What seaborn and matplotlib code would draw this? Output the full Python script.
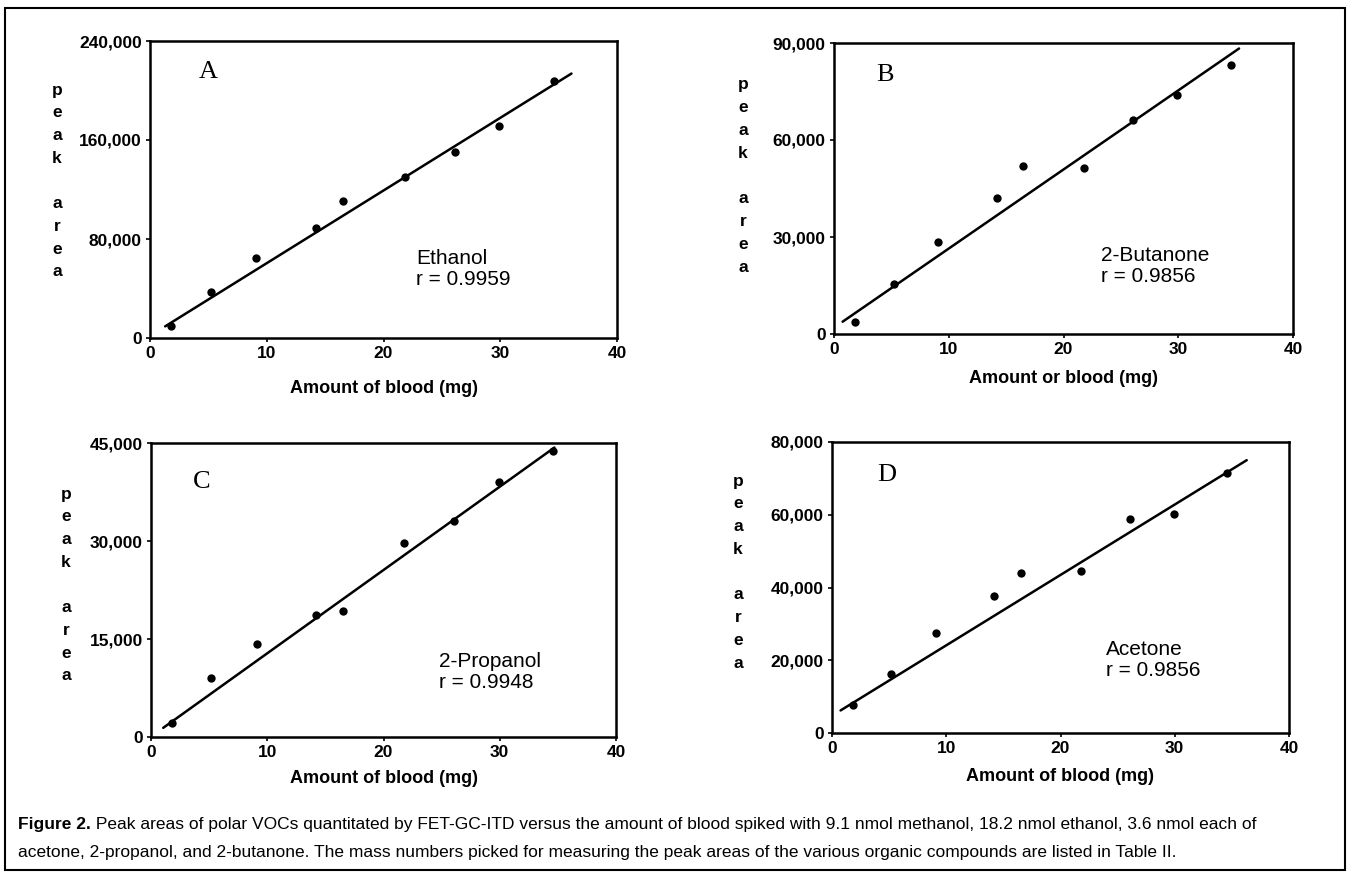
import numpy as np
import pandas as pd
import matplotlib
matplotlib.use('Agg')
import matplotlib.pyplot as plt
import seaborn as sns
from matplotlib.ticker import FuncFormatter
from matplotlib.patches import Rectangle


# Data
blood_mg = [1.8, 5.2, 9.1, 14.2, 16.5, 21.8, 26.1, 29.9, 34.6]

ethanol_area = [9400, 37100, 64500, 89200, 111000, 130400, 150000, 171500, 207500]
butanone_area = [3800, 15600, 28500, 42000, 52000, 51200, 66200, 73900, 83300]
propanol_area = [2200, 9100, 14300, 18600, 19300, 29700, 33000, 39000, 43800]
acetone_area = [7600, 16300, 27600, 37800, 44100, 44500, 58700, 60300, 71400]

# regression line end points (as drawn)
ethanol_fit_x, ethanol_fit_y = [1.3, 36.1], [9400, 213700]
butanone_fit_x, butanone_fit_y = [0.75, 35.3], [3800, 88300]
propanol_fit_x, propanol_fit_y = [1.05, 34.7], [1400, 44300]
acetone_fit_x, acetone_fit_y = [0.75, 36.3], [6200, 75000]

ethanol_ticks = [0, 80000, 160000, 240000]
butanone_ticks = [0, 30000, 60000, 90000]
propanol_ticks = [0, 15000, 30000, 45000]
acetone_ticks = [0, 20000, 40000, 60000, 80000]
x_ticks = [0, 10, 20, 30, 40]

caption_1 = ("Peak areas of polar VOCs quantitated by FET-GC-ITD versus the amount of blood spiked "
             "with 9.1 nmol methanol, 18.2 nmol ethanol, 3.6 nmol each of")
caption_2 = ("acetone, 2-propanol, and 2-butanone. The mass numbers picked for measuring the peak "
             "areas of the various organic compounds are listed in Table II.")


W, H = 1350, 873

sns.set_theme(style='ticks')
plt.rcParams['font.family'] = ['Liberation Sans', 'DejaVu Sans']


def px_rect(left, right, top, bottom):
    return [left / W, 1 - bottom / H, (right - left) / W, (bottom - top) / H]


panels = [
    dict(letter='A', name='Ethanol', r='r = 0.9959', y=ethanol_area,
         fx=ethanol_fit_x, fy=ethanol_fit_y, ticks=ethanol_ticks,
         xlabel='Amount of blood (mg)', rect=px_rect(150, 617, 41, 338),
         lab_xy=(0.124, 0.896), txt_xy=(0.57, 0.232), xl=-0.14,
         peak_x=57, peak_y=181),
    dict(letter='B', name='2-Butanone', r='r = 0.9856', y=butanone_area,
         fx=butanone_fit_x, fy=butanone_fit_y, ticks=butanone_ticks,
         xlabel='Amount or blood (mg)', rect=px_rect(834, 1293, 43, 334),
         lab_xy=(0.111, 0.89), txt_xy=(0.582, 0.234), xl=-0.122,
         peak_x=743, peak_y=176),
    dict(letter='C', name='2-Propanol', r='r = 0.9948', y=propanol_area,
         fx=propanol_fit_x, fy=propanol_fit_y, ticks=propanol_ticks,
         xlabel='Amount of blood (mg)', rect=px_rect(151, 616, 443, 737),
         lab_xy=(0.11, 0.867), txt_xy=(0.62, 0.221), xl=-0.113,
         peak_x=66, peak_y=585),
    dict(letter='D', name='Acetone', r='r = 0.9856', y=acetone_area,
         fx=acetone_fit_x, fy=acetone_fit_y, ticks=acetone_ticks,
         xlabel='Amount of blood (mg)', rect=px_rect(832, 1289, 442, 733),
         lab_xy=(0.12, 0.887), txt_xy=(0.60, 0.251), xl=-0.12,
         peak_x=738, peak_y=572),
]

fig = plt.figure(figsize=(W / 100, H / 100), dpi=100)
fig.patch.set_facecolor('white')

comma_fmt = FuncFormatter(lambda v, p: '{:,.0f}'.format(v))

for p in panels:
    ax = fig.add_axes(p['rect'])
    sns.scatterplot(x=blood_mg, y=p['y'], ax=ax, color='black', s=36,
                    linewidth=0, zorder=3)
    sns.lineplot(x=p['fx'], y=p['fy'], ax=ax, color='black', linewidth=1.8)

    ax.set_xlim(0, 40)
    ax.set_ylim(0, p['ticks'][-1])
    ax.set_xticks(x_ticks)
    ax.set_yticks(p['ticks'])
    ax.yaxis.set_major_formatter(comma_fmt)
    ax.tick_params(length=3, width=1.2, pad=3, labelsize=12.5, colors='black')
    for lbl in ax.get_xticklabels() + ax.get_yticklabels():
        lbl.set_fontweight('bold')
    for s in ax.spines.values():
        s.set_linewidth(1.8)
        s.set_color('black')

    ax.set_xlabel(p['xlabel'], fontsize=13, fontweight='bold', color='black')
    ax.xaxis.set_label_coords(0.5, p['xl'])
    ax.set_ylabel('')

    ax.text(*p['lab_xy'], p['letter'], transform=ax.transAxes, ha='center', va='center',
            fontsize=19, family=['Liberation Serif', 'DejaVu Serif'], color='black')
    ax.text(*p['txt_xy'], p['name'] + '\n' + p['r'], transform=ax.transAxes,
            ha='left', va='center', fontsize=15, linespacing=1.15, color='black')

    # stacked "peak area" label
    letters = ['p', 'e', 'a', 'k', '', 'a', 'r', 'e', 'a']
    pitch = 22.75
    for i, ch in enumerate(letters):
        yy = p['peak_y'] + (i - 4) * pitch
        fig.text(p['peak_x'] / W, 1 - yy / H, ch, ha='center', va='center',
                 fontsize=12.5, fontweight='bold', color='black')

# caption
t1 = fig.text(18 / W, 1 - 825 / H, 'Figure 2.', ha='left', va='center',
              fontsize=12.5, fontweight='bold', color='black')
fig.text(18 / W, 1 - 852 / H, caption_2, ha='left', va='center',
         fontsize=12.5, color='black')
plt.annotate(' ' + caption_1, xy=(1, 0), xycoords=t1, ha='left', va='bottom',
             fontsize=12.5, color='black', annotation_clip=False)

# outer frame
fig.add_artist(Rectangle((5 / W, 1 - 870 / H), 1340 / W, 862 / H,
                         transform=fig.transFigure, fill=False, lw=1.5,
                         edgecolor='black'))

fig.savefig('out.png', dpi=100, facecolor='white')
